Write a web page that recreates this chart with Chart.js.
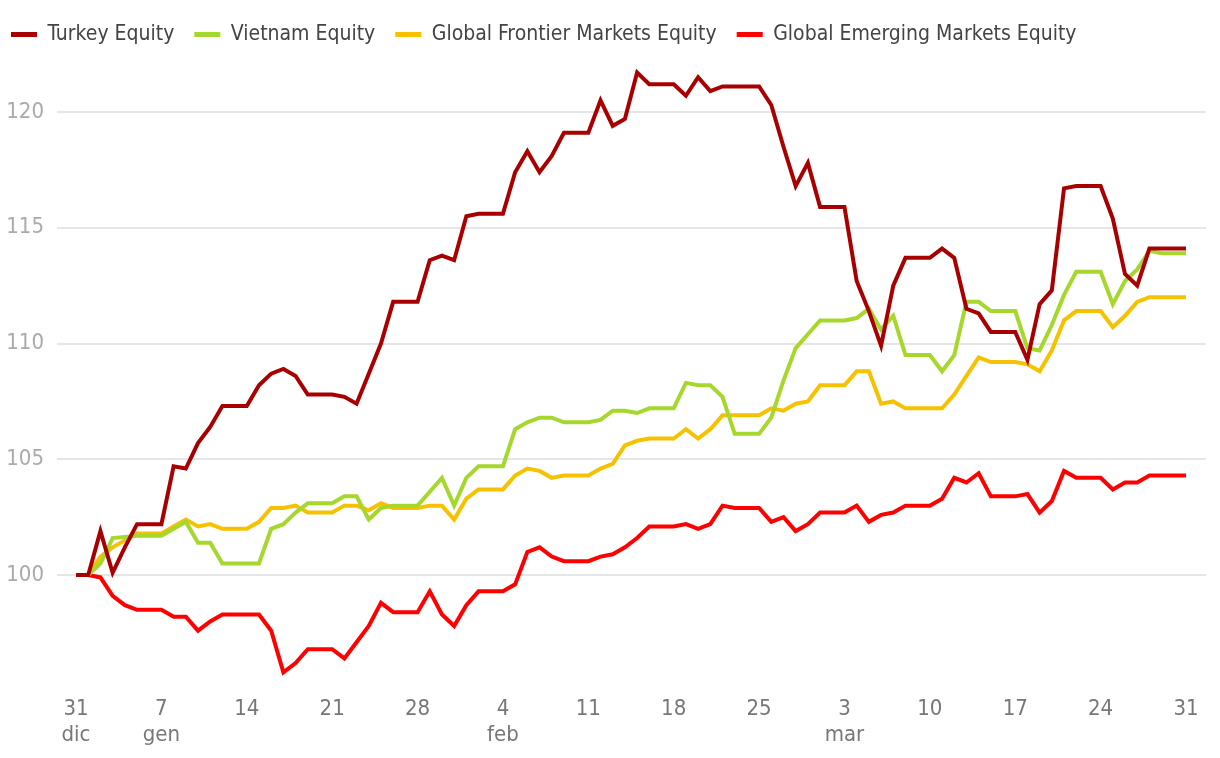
<!DOCTYPE html>
<html>
<head>
<meta charset="utf-8">
<script src="https://cdn.jsdelivr.net/npm/chart.js@4/dist/chart.umd.min.js"></script>
<style>
  html, body { margin: 0; padding: 0; background: #fff; }
  #wrap { width: 1220px; height: 758px; }
</style>
</head>
<body>
<div id="wrap"><canvas id="perf" width="1220" height="758"></canvas></div>
<script>
// daily values, 31 dic -> 31 mar (weekends carry the previous close)
const seriesNames = ["Turkey Equity", "Vietnam Equity", "Global Frontier Markets Equity", "Global Emerging Markets Equity"];
const seriesColors = ["#a80000", "#a6d72c", "#f6c200", "#ff0000"];

const turkey = [100, 100, 101.9, 100.1, 101.2, 102.2, 102.2, 102.2, 104.7, 104.6,
  105.7, 106.4, 107.3, 107.3, 107.3, 108.2, 108.7, 108.9, 108.6, 107.8,
  107.8, 107.8, 107.7, 107.4, 108.7, 110.0, 111.8, 111.8, 111.8, 113.6,
  113.8, 113.6, 115.5, 115.6, 115.6, 115.6, 117.4, 118.3, 117.4, 118.1,
  119.1, 119.1, 119.1, 120.5, 119.4, 119.7, 121.7, 121.2, 121.2, 121.2,
  120.7, 121.5, 120.9, 121.1, 121.1, 121.1, 121.1, 120.3, 118.5, 116.8,
  117.8, 115.9, 115.9, 115.9, 112.7, 111.4, 109.9, 112.5, 113.7, 113.7,
  113.7, 114.1, 113.7, 111.5, 111.3, 110.5, 110.5, 110.5, 109.3, 111.7,
  112.3, 116.7, 116.8, 116.8, 116.8, 115.4, 113.0, 112.5, 114.1, 114.1,
  114.1, 114.1];

const vietnam = [100, 100, 100.5, 101.6, 101.65, 101.7, 101.7, 101.7, 102.0, 102.3,
  101.4, 101.4, 100.5, 100.5, 100.5, 100.5, 102.0, 102.2, 102.7, 103.1,
  103.1, 103.1, 103.4, 103.4, 102.4, 102.9, 103.0, 103.0, 103.0, 103.6,
  104.2, 103.0, 104.2, 104.7, 104.7, 104.7, 106.3, 106.6, 106.8, 106.8,
  106.6, 106.6, 106.6, 106.7, 107.1, 107.1, 107.0, 107.2, 107.2, 107.2,
  108.3, 108.2, 108.2, 107.7, 106.1, 106.1, 106.1, 106.8, 108.4, 109.8,
  110.4, 111.0, 111.0, 111.0, 111.1, 111.5, 110.6, 111.2, 109.5, 109.5,
  109.5, 108.8, 109.5, 111.8, 111.8, 111.4, 111.4, 111.4, 109.8, 109.7,
  110.8, 112.1, 113.1, 113.1, 113.1, 111.7, 112.7, 113.2, 114.0, 113.9,
  113.9, 113.9];

const frontier = [100, 100, 100.8, 101.2, 101.5, 101.8, 101.8, 101.8, 102.1, 102.4,
  102.1, 102.2, 102.0, 102.0, 102.0, 102.3, 102.9, 102.9, 103.0, 102.7,
  102.7, 102.7, 103.0, 103.0, 102.8, 103.1, 102.9, 102.9, 102.9, 103.0,
  103.0, 102.4, 103.3, 103.7, 103.7, 103.7, 104.3, 104.6, 104.5, 104.2,
  104.3, 104.3, 104.3, 104.6, 104.8, 105.6, 105.8, 105.9, 105.9, 105.9,
  106.3, 105.9, 106.3, 106.9, 106.9, 106.9, 106.9, 107.2, 107.1, 107.4,
  107.5, 108.2, 108.2, 108.2, 108.8, 108.8, 107.4, 107.5, 107.2, 107.2,
  107.2, 107.2, 107.8, 108.6, 109.4, 109.2, 109.2, 109.2, 109.1, 108.8,
  109.7, 111.0, 111.4, 111.4, 111.4, 110.7, 111.2, 111.8, 112.0, 112.0,
  112.0, 112.0];

const emerging = [100, 100, 99.9, 99.1, 98.7, 98.5, 98.5, 98.5, 98.2, 98.2,
  97.6, 98.0, 98.3, 98.3, 98.3, 98.3, 97.6, 95.8, 96.2, 96.8,
  96.8, 96.8, 96.4, 97.1, 97.8, 98.8, 98.4, 98.4, 98.4, 99.3,
  98.3, 97.8, 98.7, 99.3, 99.3, 99.3, 99.6, 101.0, 101.2, 100.8,
  100.6, 100.6, 100.6, 100.8, 100.9, 101.2, 101.6, 102.1, 102.1, 102.1,
  102.2, 102.0, 102.2, 103.0, 102.9, 102.9, 102.9, 102.3, 102.5, 101.9,
  102.2, 102.7, 102.7, 102.7, 103.0, 102.3, 102.6, 102.7, 103.0, 103.0,
  103.0, 103.3, 104.2, 104.0, 104.4, 103.4, 103.4, 103.4, 103.5, 102.7,
  103.2, 104.5, 104.2, 104.2, 104.2, 103.7, 104.0, 104.0, 104.3, 104.3,
  104.3, 104.3];

// x ticks every 7 days (day offset from 31 dic)
const tickDays = [0, 7, 14, 21, 28, 35, 42, 49, 56, 63, 70, 77, 84, 91];
const tickLabels = [["31", "dic"], ["7", "gen"], "14", "21", "28", ["4", "feb"], "11", "18", "25", ["3", "mar"], "10", "17", "24", "31"];
const yTicks = [100, 105, 110, 115, 120];

const days = turkey.map((v, i) => i);
const fontFamily = "'Liberation Sans Narrow', 'DejaVu Sans Condensed', 'Roboto', sans-serif";

const allSeries = [turkey, vietnam, frontier, emerging];

// nudge the legend a bit to the left, like the original
const legendShift = {
  id: "legendShift",
  afterLayout(chart) {
    if (chart.legend) {
      chart.legend.left -= 9;
      chart.legend.right -= 9;
    }
  }
};

const ctx = document.getElementById("perf").getContext("2d");
const chart = new Chart(ctx, {
  type: "line",
  data: {
    labels: days,
    datasets: allSeries.map((s, k) => ({
      label: seriesNames[k],
      data: s,
      borderColor: seriesColors[k],
      backgroundColor: seriesColors[k],
      borderWidth: 4,
      pointRadius: 0,
      tension: 0,
      fill: false
    }))
  },
  plugins: [legendShift],
  options: {
    responsive: false,
    animation: false,
    layout: { padding: { left: 0, right: 14, top: 4, bottom: 0 } },
    plugins: {
      tooltip: { enabled: false },
      legend: {
        position: "top",
        align: "start",
        labels: {
          font: { family: fontFamily, size: 21 },
          color: "#444",
          boxWidth: 26,
          boxHeight: 5,
          padding: 20,
          generateLabels: (c) => c.data.datasets.map((d, i) => ({
            text: d.label,
            fillStyle: d.borderColor,
            strokeStyle: d.borderColor,
            lineWidth: 0,
            fontColor: "#444",
            datasetIndex: i
          }))
        }
      }
    },
    scales: {
      x: {
        type: "linear",
        min: -1.56,
        max: 92.64,
        grid: { display: false },
        border: { display: false },
        afterBuildTicks: (scale) => { scale.ticks = tickDays.map(v => ({ value: v })); },
        afterFit: (scale) => { scale.height = 78; },
        ticks: {
          autoSkip: false,
          maxRotation: 0,
          padding: 8,
          color: "#777",
          font: { family: fontFamily, size: 22 },
          callback: (v) => tickLabels[tickDays.indexOf(v)]
        }
      },
      y: {
        min: 95.47,
        max: 122.46,
        grid: { color: "#e6e6e6", lineWidth: 2, drawTicks: false },
        border: { display: false },
        afterBuildTicks: (scale) => { scale.ticks = yTicks.map(v => ({ value: v })); },
        afterFit: (scale) => { scale.width = 57; },
        ticks: {
          padding: 13,
          color: "#aaa",
          font: { family: fontFamily, size: 22 }
        }
      }
    }
  }
});
</script>
</body>
</html>
